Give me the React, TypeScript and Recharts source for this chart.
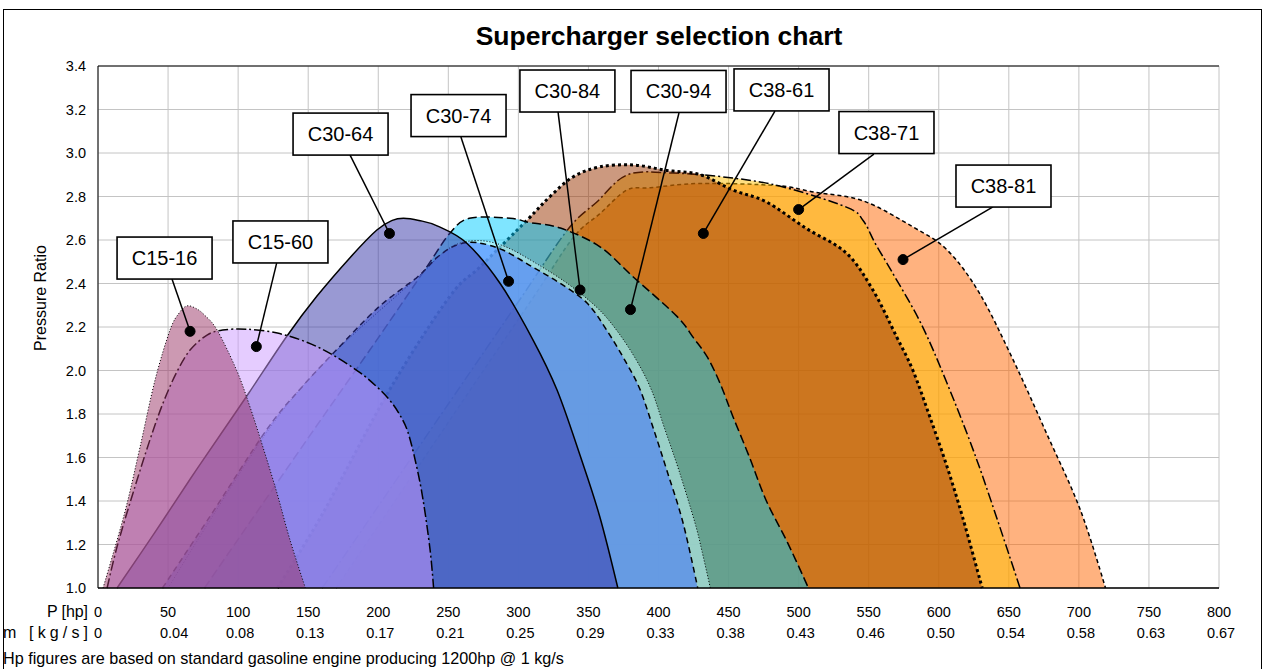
import React from 'react';
import {
  ComposedChart,
  Area,
  XAxis,
  YAxis,
  CartesianGrid,
  ReferenceLine,
  ReferenceDot,
} from 'recharts';

const FONT = '"Liberation Sans", Arial, Helvetica, sans-serif';

// ---------- axis data ----------
const hpTicks = [0, 50, 100, 150, 200, 250, 300, 350, 400, 450, 500, 550, 600, 650, 700, 750, 800];
const massLabels = ['0', '0.04', '0.08', '0.13', '0.17', '0.21', '0.25', '0.29', '0.33', '0.38', '0.43', '0.46', '0.50', '0.54', '0.58', '0.63', '0.67'];
const ratioTicks = [1.0, 1.2, 1.4, 1.6, 1.8, 2.0, 2.2, 2.4, 2.6, 2.8, 3.0, 3.2, 3.4];

// ---------- series data: [power hp, pressure ratio] ----------
const C15_16: [number, number][] = [
  [3.6, 1.0], [19, 1.345], [30, 1.648], [40.7, 1.956], [51.4, 2.186], [58, 2.265], [63.5, 2.297],
  [70, 2.285], [76, 2.255], [85, 2.186], [99, 2.0], [108.5, 1.832], [117.7, 1.648], [127.7, 1.437],
  [137, 1.221], [148, 1.0],
];
const C15_60: [number, number][] = [
  [6.5, 1.0], [13.6, 1.19], [25, 1.437], [37, 1.68], [46.4, 1.85], [56, 1.99], [65.7, 2.094],
  [77.8, 2.163], [89, 2.186], [106, 2.19], [128, 2.172], [149, 2.13], [168, 2.07], [187, 1.99],
  [199, 1.925], [208, 1.865], [215, 1.8], [221, 1.72], [227, 1.57], [232, 1.405], [237, 1.175], [239.5, 1.0],
];
const C30_64: [number, number][] = [
  [13.6, 1.0], [40, 1.25], [65.7, 1.5], [90, 1.73], [108, 1.9], [135, 2.16], [156, 2.34], [180, 2.52],
  [199, 2.646], [210, 2.69], [218, 2.7], [229, 2.69], [242, 2.665], [263, 2.586], [287, 2.4],
  [310.5, 2.14], [327.6, 1.91], [344, 1.61], [358, 1.33], [371, 1.0],
];
const C30_74: [number, number][] = [
  [46, 1.0], [80, 1.33], [120.6, 1.73], [145, 1.92], [168, 2.08], [200, 2.29], [228, 2.43], [242, 2.52],
  [256, 2.577], [270, 2.588], [289, 2.554], [310, 2.476], [330, 2.4], [349, 2.31], [363, 2.186],
  [377.5, 2.03], [387, 1.91], [396, 1.74], [406, 1.54], [417.5, 1.3], [428, 1.0],
];
const C30_84: [number, number][] = [
  [50, 1.0], [122, 1.73], [170, 2.09], [230, 2.44], [244, 2.53], [258, 2.585], [275, 2.596],
  [292, 2.566], [312, 2.495], [335, 2.4], [356, 2.29], [370, 2.186], [384, 2.05], [395, 1.91],
  [404, 1.74], [414.6, 1.54], [426, 1.3], [431, 1.17], [437, 1.0],
];
const C30_94: [number, number][] = [
  [76, 1.0], [150, 1.69], [200, 2.15], [235, 2.48], [251, 2.63], [265, 2.7], [294, 2.7], [308, 2.68],
  [330, 2.655], [358, 2.57], [382, 2.43], [413, 2.25], [425, 2.15], [435, 2.06], [444, 1.94],
  [453, 1.79], [465, 1.6], [477, 1.4], [492, 1.21], [507, 1.0],
];
const C38_61: [number, number][] = [
  [128, 1.0], [160.6, 1.345], [208, 1.91], [251, 2.34], [272.6, 2.476], [306, 2.69], [322.6, 2.8],
  [339, 2.89], [358, 2.936], [382, 2.945], [406, 2.92], [430, 2.9], [453, 2.83], [477, 2.775],
  [505, 2.655], [534, 2.54], [553, 2.37], [570, 2.154], [581.6, 2.0], [593.7, 1.786], [606, 1.556],
  [617, 1.326], [631, 1.0],
];
const C38_71: [number, number][] = [
  [160, 1.0], [250, 1.846], [300, 2.316], [335, 2.646], [356, 2.775], [378, 2.9], [410, 2.908],
  [453, 2.885], [489, 2.844], [534.5, 2.75], [546, 2.69], [555, 2.58], [566, 2.46], [587, 2.22],
  [606, 1.94], [629, 1.556], [658, 1.0],
];
const C38_81: [number, number][] = [
  [170, 1.0], [260, 1.857], [310, 2.33], [339, 2.61], [358, 2.72], [377.5, 2.83], [394, 2.84],
  [430, 2.86], [484.5, 2.85], [511, 2.82], [546, 2.78], [581.6, 2.66], [606, 2.554], [629, 2.356],
  [653, 2.05], [677, 1.71], [701, 1.36], [719, 1.0],
];

// ---------- callouts (label, dot point, box centre, leader start) in data units ----------
const calloutNames = ['C15-16', 'C15-60', 'C30-64', 'C30-74', 'C30-84', 'C30-94', 'C38-61', 'C38-71', 'C38-81'];
const calloutDots: [number, number][] = [
  [65.7, 2.18], [113, 2.11], [208, 2.63], [293, 2.41], [344, 2.37], [380, 2.28], [432, 2.63], [500, 2.74], [574.5, 2.51],
];
const calloutBoxes: [number, number][] = [
  [47.5, 2.517], [130.2, 2.591], [173.1, 3.087], [257.3, 3.172], [335, 3.285], [414.3, 3.283], [487.8, 3.29], [562.7, 3.094], [646.2, 2.848],
];
const calloutAnchors: [number, number][] = [
  [52.8, 2.421], [127.5, 2.494], [179.8, 2.991], [259, 3.074], [328.3, 3.189], [414.6, 3.184], [483.1, 3.193], [553.7, 2.995], [638.7, 2.752],
];

// ---------- styles ----------
type Style = { fill: string; dash?: string; width: number };
const seriesOrder: { name: string; pts: [number, number][]; style: Style }[] = [
  { name: 'C38-81', pts: C38_81, style: { fill: '#FF6600', dash: '4 3', width: 1.5 } },
  { name: 'C38-71', pts: C38_71, style: { fill: '#FFC000', dash: '10 3 2 3', width: 1.5 } },
  { name: 'C38-61', pts: C38_61, style: { fill: '#993300', dash: '3 3', width: 3 } },
  { name: 'C30-94', pts: C30_94, style: { fill: '#00CCFF', dash: '9 4', width: 1.5 } },
  { name: 'C30-84', pts: C30_84, style: { fill: '#CCFFFF', dash: '1 2', width: 1 } },
  { name: 'C30-74', pts: C30_74, style: { fill: '#3366FF', dash: '6 4', width: 1.5 } },
  { name: 'C30-64', pts: C30_64, style: { fill: '#3333A8', width: 1.5 } },
  { name: 'C15-60', pts: C15_60, style: { fill: '#CC99FF', dash: '10 3 2 3', width: 1.5 } },
  { name: 'C15-16', pts: C15_16, style: { fill: '#993366', dash: '1 2', width: 1 } },
];

const toRows = (pts: [number, number][]) => pts.map(([hp, pr]) => ({ hp, pr }));

// Catmull-Rom (cardinal, tension 0) curve factory, like a smoothed Excel line
const smoothCurve = (context: any) => {
  const k = 1 / 6;
  let x0 = NaN, y0 = NaN, x1 = NaN, y1 = NaN, x2 = NaN, y2 = NaN, pt = 0, line = NaN;
  const seg = (x: number, y: number) => {
    context.bezierCurveTo(x1 + k * (x2 - x0), y1 + k * (y2 - y0), x2 + k * (x1 - x), y2 + k * (y1 - y), x2, y2);
  };
  return {
    areaStart() { line = 0; },
    areaEnd() { line = NaN; },
    lineStart() { x0 = x1 = x2 = y0 = y1 = y2 = NaN; pt = 0; },
    lineEnd() {
      if (pt === 2) context.lineTo(x2, y2);
      else if (pt === 3) seg(x1, y1);
      if (line || (line !== 0 && pt === 1)) context.closePath();
      line = 1 - line;
    },
    point(x: number, y: number) {
      x = +x; y = +y;
      if (pt === 0) { pt = 1; if (line) context.lineTo(x, y); else context.moveTo(x, y); }
      else if (pt === 1) { pt = 2; x1 = x; y1 = y; }
      else { pt = 3; seg(x, y); }
      x0 = x1; x1 = x2; x2 = x;
      y0 = y1; y1 = y2; y2 = y;
    },
  };
};

const W = 1271;
const H = 669;
const TICK_FS = 14.5;

const XTick = (props: any) => {
  const { x, y, payload } = props;
  const v = payload.value as number;
  const i = hpTicks.indexOf(v);
  const top = String(v);
  const w = top.length * 0.556 * TICK_FS;
  const sx = x - w / 2;
  return (
    <g>
      <text x={sx} y={y + 29} fontFamily={FONT} fontSize={TICK_FS} fill="#000" textAnchor="start">{top}</text>
      <text x={sx} y={y + 50} fontFamily={FONT} fontSize={TICK_FS} fill="#000" textAnchor="start">{massLabels[i]}</text>
    </g>
  );
};

const YTick = (props: any) => {
  const { x, y, payload } = props;
  return (
    <text x={x - 12} y={y} dy={5} fontFamily={FONT} fontSize={TICK_FS} fill="#000" textAnchor="end">
      {(payload.value as number).toFixed(1)}
    </text>
  );
};

const makeBox = (name: string) => (p: any) => {
  const w = 95;
  const h = 42;
  return (
    <g>
      <rect x={p.cx - w / 2} y={p.cy - h / 2} width={w} height={h} fill="#fff" stroke="#000" strokeWidth={1.6} />
      <text x={p.cx} y={p.cy + 7} textAnchor="middle" fontFamily={FONT} fontSize={20} fill="#000">{name}</text>
    </g>
  );
};

export default function App() {
  return (
    <div style={{ position: 'absolute', left: 0, top: 0, width: W, height: H, background: '#fff', overflow: 'hidden' }}>
      <ComposedChart width={W} height={H} margin={{ top: 66, right: 52, bottom: 21, left: 38 }}>
        <CartesianGrid stroke="#C4C4C4" strokeWidth={1} />
        <XAxis
          dataKey="hp"
          type="number"
          domain={[0, 800]}
          ticks={hpTicks}
          interval={0}
          height={60}
          tickSize={0}
          tickMargin={0}
          tickLine={false}
          axisLine={{ stroke: '#000', strokeWidth: 1.5 }}
          tick={<XTick />}
        />
        <YAxis
          type="number"
          domain={[1, 3.4]}
          ticks={ratioTicks}
          interval={0}
          width={60}
          tickSize={0}
          tickMargin={0}
          tickLine={false}
          axisLine={{ stroke: '#000', strokeWidth: 1 }}
          tick={<YTick />}
        />
        {seriesOrder.map((s) => (
          <Area
            key={s.name}
            name={s.name}
            data={toRows(s.pts)}
            dataKey="pr"
            type={smoothCurve as any}
            baseValue={1}
            fill={s.style.fill}
            fillOpacity={0.5}
            stroke="#000"
            strokeWidth={s.style.width}
            strokeDasharray={s.style.dash}
            dot={false}
            activeDot={false}
            isAnimationActive={false}
          />
        ))}
        <ReferenceLine y={3.4} stroke="#000" strokeWidth={1} />
        {calloutNames.map((n, i) => (
          <ReferenceLine
            key={'l' + n}
            segment={[
              { x: calloutAnchors[i][0], y: calloutAnchors[i][1] },
              { x: calloutDots[i][0], y: calloutDots[i][1] },
            ]}
            stroke="#000"
            strokeWidth={1.5}
            ifOverflow="visible"
          />
        ))}
        {calloutNames.map((n, i) => (
          <ReferenceDot key={'d' + n} x={calloutDots[i][0]} y={calloutDots[i][1]} r={5} fill="#000" stroke="#000" ifOverflow="visible" />
        ))}
        {calloutNames.map((n, i) => (
          <ReferenceDot key={'b' + n} x={calloutBoxes[i][0]} y={calloutBoxes[i][1]} r={1} ifOverflow="visible" shape={makeBox(n)} />
        ))}
      </ComposedChart>
      <svg width={W} height={H} style={{ position: 'absolute', left: 0, top: 0, pointerEvents: 'none' }}>
        <rect x={3.5} y={9.5} width={1258} height={700} fill="none" stroke="#000" strokeWidth={1} />
        <text x={659} y={45} textAnchor="middle" fontFamily={FONT} fontSize={26.5} fontWeight="bold" fill="#000">
          Supercharger selection chart
        </text>
        <text x={41} y={298} transform="rotate(-90 41 298)" textAnchor="middle" dy={5} fontFamily={FONT} fontSize={16} fill="#000">
          Pressure Ratio
        </text>
        <text x={47} y={617} textLength={41} lengthAdjust="spacing" fontFamily={FONT} fontSize={16} fill="#000">P [hp]</text>
        <text x={3} y={638} textLength={85} lengthAdjust="spacing" fontFamily={FONT} fontSize={16} fill="#000">m [kg/s]</text>
        <text x={3} y={664} fontFamily={FONT} fontSize={16.2} fill="#000">
          Hp figures are based on standard gasoline engine producing 1200hp @ 1 kg/s
        </text>
      </svg>
    </div>
  );
}
